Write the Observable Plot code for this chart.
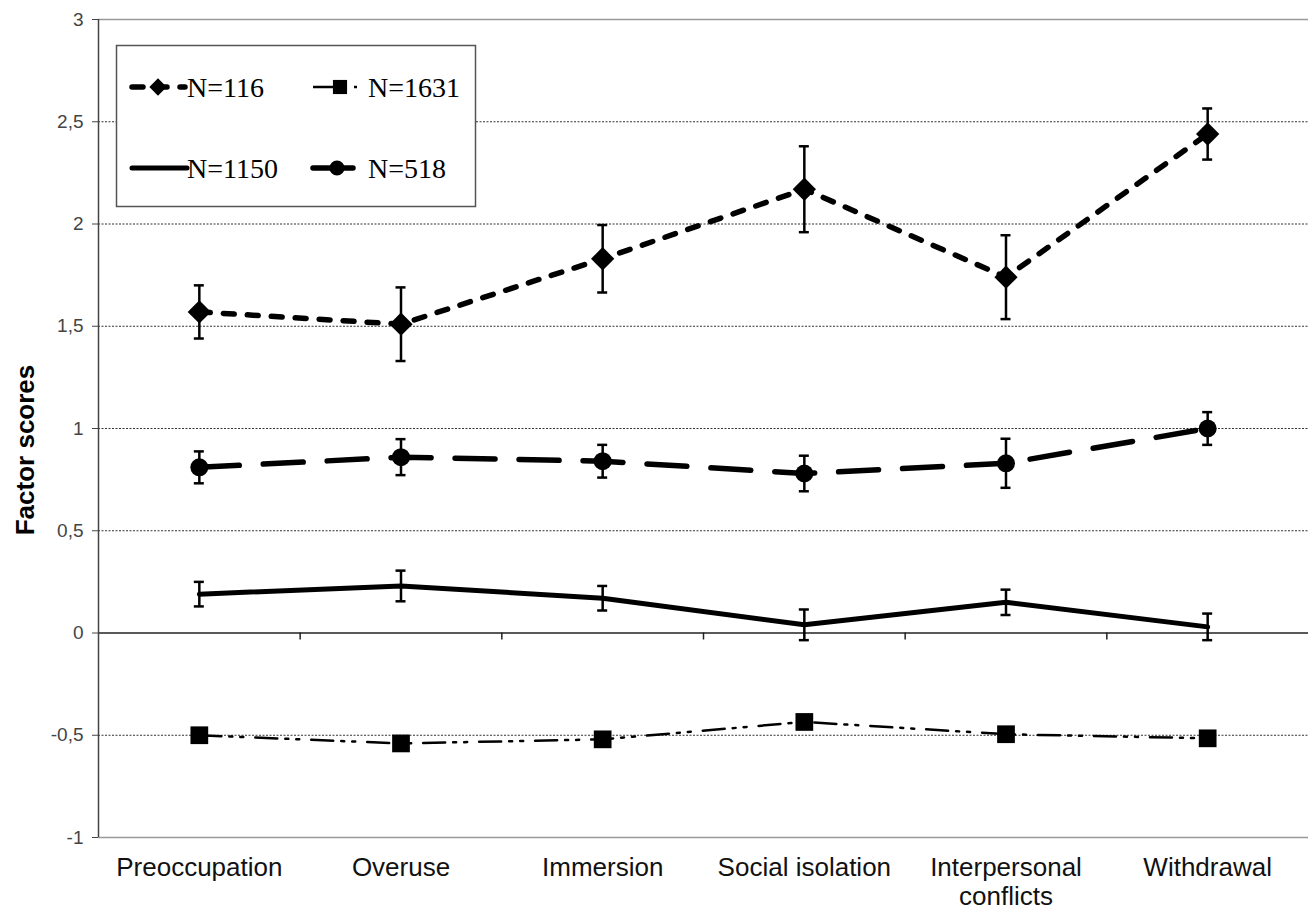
<!DOCTYPE html>
<html><head><meta charset="utf-8">
<script src="https://cdn.jsdelivr.net/npm/d3@7"></script>
<script src="https://cdn.jsdelivr.net/npm/@observablehq/plot@0.6"></script>
<style>
body{margin:0;background:#fff;}
#chart{position:relative;width:1308px;height:912px;}
</style>
</head><body><div id="chart"></div>
<script>
// ---- data ----
const categories = ["Preoccupation", "Overuse", "Immersion", "Social isolation", "Interpersonal conflicts", "Withdrawal"];
const n116 = [1.57, 1.51, 1.83, 2.17, 1.74, 2.44];
const n116Err = [0.13, 0.18, 0.165, 0.21, 0.205, 0.125];
const n518 = [0.81, 0.86, 0.84, 0.78, 0.83, 1.00];
const n518Err = [0.078, 0.088, 0.08, 0.087, 0.12, 0.08];
const n1150 = [0.19, 0.23, 0.17, 0.04, 0.15, 0.03];
const n1150Err = [0.06, 0.075, 0.06, 0.075, 0.062, 0.065];
const n1631 = [-0.50, -0.54, -0.52, -0.435, -0.495, -0.515];
const yTicks = [-1, -0.5, 0, 0.5, 1, 1.5, 2, 2.5, 3];
const dottedGrid = [-0.5, 0.5, 1, 1.5, 2, 2.5];
const seriesNames = ["N=116", "N=1631", "N=1150", "N=518"];
const yLabel = "Factor scores";

// ---- build tables ----
const rows = (vals, errs) => vals.map((v, i) => ({i, v, e: errs ? errs[i] : 0}));
const d116 = rows(n116, n116Err);
const d518 = rows(n518, n518Err);
const d1150 = rows(n1150, n1150Err);
const d1631 = rows(n1631, null);
const withErr = [...d116, ...d518, ...d1150];

const W = 1308, H = 912, ML = 98, MR = 0, MT = 19, MB = 75;
const xDomain = [-0.5, categories.length - 0.5];
const step = (W - ML - MR) / categories.length;
const capHalf = 5 / step;
const bounds = d3.range(1, categories.length).map(i => i - 0.5);

const styles = {
  "N=116": {dash: "11,13", width: 5.5, cap: "round", symbol: "diamond2"},
  "N=1631": {dash: "22,8,3,8,3,12", width: 2.5, cap: "butt", symbol: "square"},
  "N=1150": {dash: null, width: 5, cap: "round", symbol: null},
  "N=518": {dash: "40,24", width: 5.5, cap: "round", symbol: "circle"}
};

const chart = Plot.plot({
  width: W, height: H,
  marginLeft: ML, marginRight: MR, marginTop: MT, marginBottom: MB,
  style: {fontFamily: "'Liberation Sans', Arial, sans-serif", background: "white", overflow: "visible"},
  x: {domain: xDomain},
  y: {domain: [-1, 3]},
  marks: [
    Plot.ruleY(dottedGrid, {stroke: "#333", strokeWidth: 1, strokeDasharray: "2,1.5"}),
    Plot.ruleY([3, -1], {stroke: "#999", strokeWidth: 1.5}),
    Plot.ruleY([0], {stroke: "#222", strokeWidth: 1.5}),
    Plot.ruleX([xDomain[0]], {stroke: "#444", strokeWidth: 1.5}),
    Plot.ruleX(bounds, {y1: 0, y2: 0, insetBottom: -7, stroke: "#222", strokeWidth: 1.5}),
    Plot.axisY(yTicks, {anchor: "left", tickSize: 6, tickPadding: 9, fontSize: 19, color: "#444",
      tickFormat: d => String(d).replace(".", ","), label: null}),
    Plot.axisX(d3.range(categories.length), {anchor: "bottom", tickSize: 0, tickPadding: 19, fontSize: 26,
      fill: "#111", lineHeight: 1.08, label: null,
      tickFormat: i => categories[i].length > 16 ? categories[i].replace(" ", "\n") : categories[i]}),
    // lines
    Plot.line(d1631, {x: "i", y: "v", stroke: "#000", strokeWidth: styles["N=1631"].width, strokeDasharray: styles["N=1631"].dash}),
    Plot.line(d1150, {x: "i", y: "v", stroke: "#000", strokeWidth: styles["N=1150"].width, strokeLinecap: "round"}),
    Plot.line(d518, {x: "i", y: "v", stroke: "#000", strokeWidth: styles["N=518"].width, strokeLinecap: "round", strokeDasharray: styles["N=518"].dash}),
    Plot.line(d116, {x: "i", y: "v", stroke: "#000", strokeWidth: styles["N=116"].width, strokeLinecap: "round", strokeDasharray: styles["N=116"].dash}),
    // error bars
    Plot.ruleX(withErr, {x: "i", y1: d => d.v - d.e, y2: d => d.v + d.e, stroke: "#000", strokeWidth: 2.5}),
    Plot.ruleY(withErr, {y: d => d.v - d.e, x1: d => d.i - capHalf, x2: d => d.i + capHalf, stroke: "#000", strokeWidth: 2.5}),
    Plot.ruleY(withErr, {y: d => d.v + d.e, x1: d => d.i - capHalf, x2: d => d.i + capHalf, stroke: "#000", strokeWidth: 2.5}),
    // markers
    Plot.dot(d116, {x: "i", y: "v", symbol: "diamond2", r: 10.5, fill: "#000", stroke: "none"}),
    Plot.dot(d518, {x: "i", y: "v", symbol: "circle", r: 9, fill: "#000", stroke: "none"}),
    Plot.dot(d1631, {x: "i", y: "v", symbol: "square", r: 10, fill: "#000", stroke: "none"})
  ]
});

document.getElementById("chart").appendChild(chart);

const svg = d3.select(chart);

// ---- y axis title ----
svg.append("text").attr("transform", "translate(27,450) rotate(-90)")
  .attr("text-anchor", "middle").attr("dominant-baseline", "middle")
  .attr("font-family", "'Liberation Sans', Arial, sans-serif").attr("font-size", 26)
  .attr("font-weight", "bold").attr("fill", "#000").text(yLabel);

// ---- legend (inside plot area) ----
const lg = svg.append("g").attr("class", "legend");
lg.append("rect").attr("x", 116.5).attr("y", 45.5).attr("width", 359).attr("height", 161)
  .attr("fill", "#fff").attr("stroke", "#555").attr("stroke-width", 1.5);
const slots = [
  {name: seriesNames[0], x1: 132, x2: 185, y: 87, mx: 158, tx: 187},
  {name: seriesNames[1], x1: 313, x2: 360, y: 87, mx: 340, tx: 368},
  {name: seriesNames[2], x1: 132, x2: 187, y: 168, mx: 160, tx: 187},
  {name: seriesNames[3], x1: 313, x2: 360, y: 168, mx: 337, tx: 368}
];
const symMap = {diamond2: [d3.symbolDiamond2, 190], square: [d3.symbolSquare, 200], circle: [d3.symbolCircle, 180]};
slots.forEach(s => {
  const st = styles[s.name];
  lg.append("line").attr("x1", s.x1).attr("x2", s.x2).attr("y1", s.y).attr("y2", s.y)
    .attr("stroke", "#000").attr("stroke-width", st.width).attr("stroke-linecap", st.cap)
    .attr("stroke-dasharray", st.dash);
  if (st.symbol) {
    const [t, size] = symMap[st.symbol];
    lg.append("path").attr("d", d3.symbol(t, size)()).attr("transform", `translate(${s.mx},${s.y})`).attr("fill", "#000");
  }
  lg.append("text").attr("x", s.tx).attr("y", s.y + 10).attr("text-anchor", "start").text(s.name)
    .attr("font-family", "'Liberation Serif', 'Times New Roman', serif").attr("font-size", 28).attr("fill", "#000");
});
</script>
</body></html>
